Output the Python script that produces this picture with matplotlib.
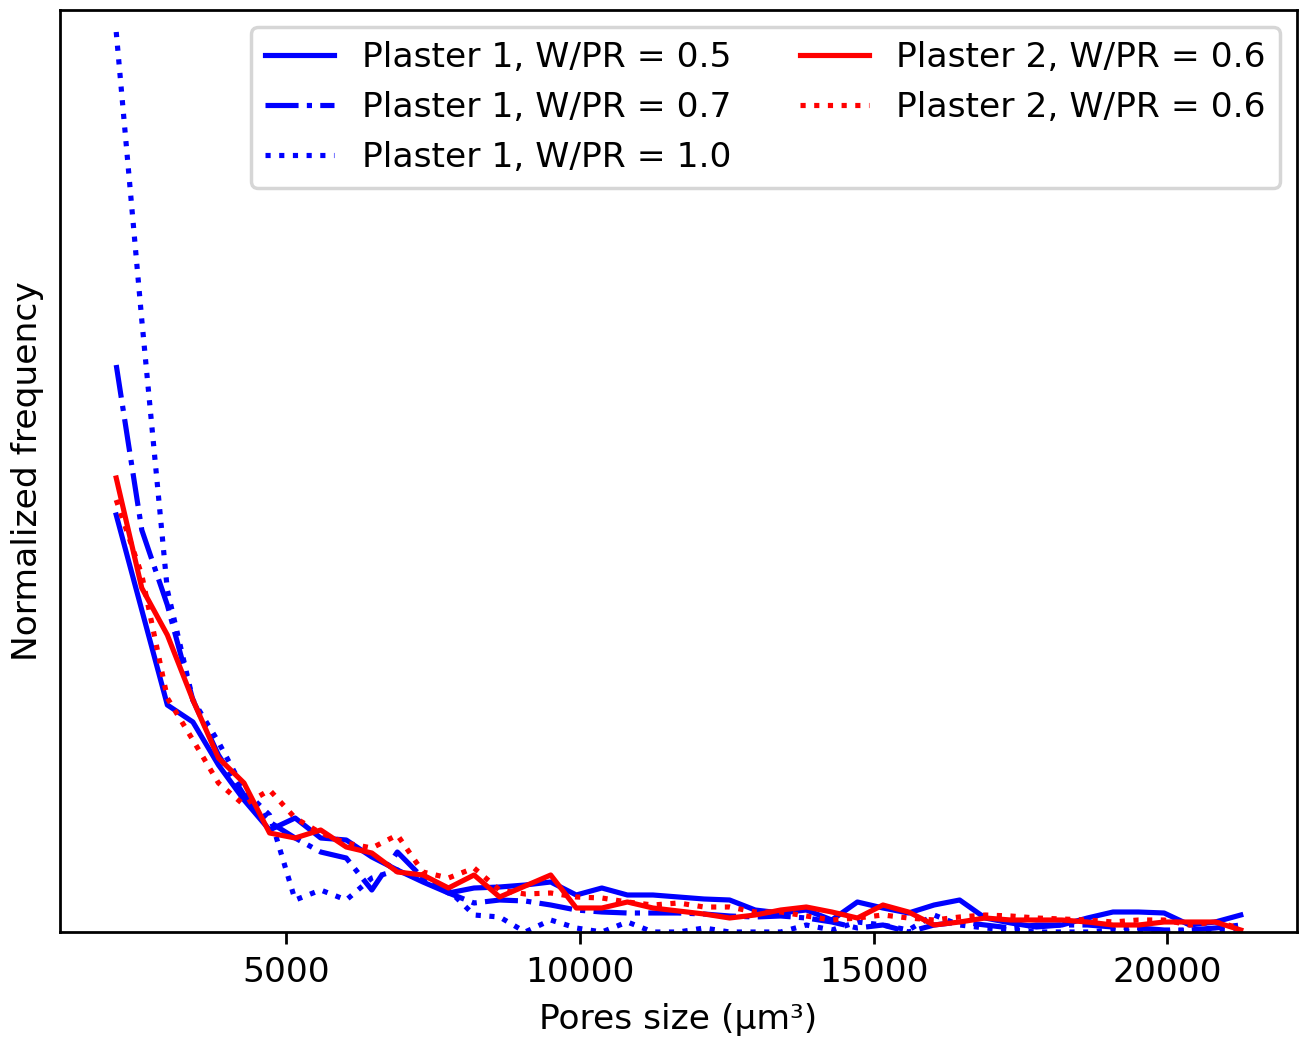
import matplotlib
matplotlib.use("Agg")
import matplotlib.pyplot as plt

# Pore size bin centres (µm³)
pore_size = [2110, 2545, 2980, 3415, 3850, 4285, 4720, 5155, 5590, 6025,
             6460, 6895, 7330, 7765, 8200, 8635, 9070, 9505, 9940, 10375,
             10810, 11245, 11680, 12115, 12550, 12985, 13420, 13855, 14290, 14725,
             15160, 15595, 16030, 16465, 16900, 17335, 17770, 18205, 18640, 19075,
             19510, 19945, 20380, 20815, 21250]

# Normalized frequency (arbitrary units, x1000)
p1_05 = [417, 322, 227, 210, 167, 132, 102, 114, 94, 92,
         75, 62, 50, 39, 44, 45, 47, 50, 37, 44,
         37, 37, 35, 33, 32, 22, 19, 22, 12, 30,
         24, 19, 27, 32, 14, 9, 5, 7, 14, 20,
         20, 19, 7, 10, 17]
p1_07 = [567, 402, 327, 232, 177, 137, 110, 94, 80, 74,
         42, 80, 54, 39, 29, 32, 31, 27, 22, 20,
         19, 19, 19, 18, 16, 15, 16, 14, 10, 4,
         7, 0, 7, 10, 7, 4, 7, 7, 7, 5,
         4, 2, 2, 4, 7]
p1_10 = [900, 612, 342, 232, 190, 142, 117, 32, 42, 32,
         54, 62, 52, 42, 17, 15, 0, 12, 4, 0,
         10, 0, 0, 4, 0, 0, 0, 7, 2, 10,
         7, 2, 17, 7, 4, 2, 0, 0, 0, 2,
         0, 0, 2, 0, 4]
p2_06a = [454, 344, 297, 232, 174, 149, 99, 94, 102, 85,
          79, 60, 57, 44, 57, 35, 46, 57, 24, 24,
          30, 24, 21, 18, 14, 17, 22, 25, 20, 14,
          27, 20, 7, 10, 14, 12, 12, 12, 10, 7,
          7, 10, 10, 10, 2]
p2_06b = [432, 357, 234, 192, 149, 127, 142, 114, 99, 89,
          84, 97, 60, 54, 64, 42, 38, 39, 35, 34,
          30, 27, 29, 25, 25, 20, 20, 16, 12, 14,
          17, 14, 12, 15, 17, 16, 14, 13, 12, 10,
          12, 12, 7, 10, 4]

labels = ["Plaster 1, W/PR = 0.5", "Plaster 1, W/PR = 0.7", "Plaster 1, W/PR = 1.0",
          "Plaster 2, W/PR = 0.6", "Plaster 2, W/PR = 0.6"]

dpi = 248
fig = plt.figure(figsize=(1299 / dpi, 1038 / dpi), dpi=dpi)
ax = fig.add_axes([60 / 1299, (1038 - 932) / 1038, 1237 / 1299, 922 / 1038])

ax.plot(pore_size, p1_05, color="blue", linestyle="-", label=labels[0])
ax.plot(pore_size, p1_07, color="blue", linestyle="-.", label=labels[1])
ax.plot(pore_size, p1_10, color="blue", linestyle=":", label=labels[2])
ax.plot(pore_size, p2_06a, color="red", linestyle="-", label=labels[3])
ax.plot(pore_size, p2_06b, color="red", linestyle=":", label=labels[4])

ax.set_ylim(0, 922)
ax.set_yticks([])
ax.set_xticks([5000, 10000, 15000, 20000])
ax.set_xlabel("Pores size (\u03bcm\u00b3)", labelpad=4)
ax.set_ylabel("Normalized frequency", labelpad=4.5)
ax.legend(ncol=2, loc="upper right")

fig.savefig("out.png", dpi=dpi)
